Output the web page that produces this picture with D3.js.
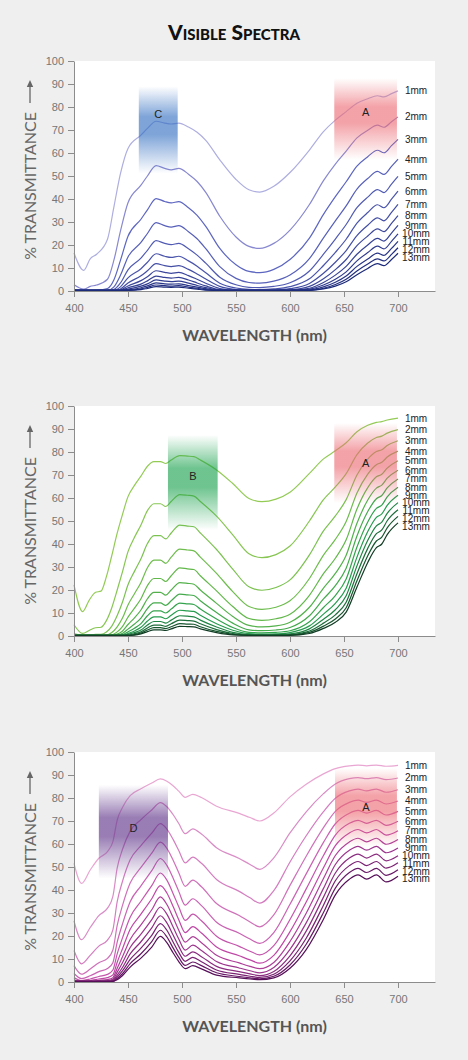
<!DOCTYPE html>
<html>
<head>
<meta charset="utf-8">
<script src="https://cdn.jsdelivr.net/npm/d3@7"></script>
<style>
  body { margin: 0; background: #efefef; }
  svg { display: block; }
</style>
</head>
<body>
<svg id="chart"></svg>
<script>
var thickness = ["1mm","2mm","3mm","4mm","5mm","6mm","7mm","8mm","9mm","10mm","11mm","12mm","13mm"];
var xTicks = [400, 450, 500, 550, 600, 650, 700];
var yTicks = [0, 10, 20, 30, 40, 50, 60, 70, 80, 90, 100];

// top chart (blue)
var blueWl = [400,409,415,421,431,437,443,450,462,468,476,484,490,497,506,514,522,535,550,562,572,585,600,618,631,642,652,662,672,681,687,694,700];
var blueT = [
  [16.5,9,14,16,22.5,36.7,51,62,67.8,70.7,73.8,73,72.6,73,71.3,69,65.5,57,48.5,44,43,45.5,51.5,61.3,69.3,74.3,78,81.6,83.6,84.9,84.4,85.8,87],
  [2.7,0.8,2.0,2.6,5.1,13.5,26.0,38.4,46.0,50.0,54.5,53.3,52.7,53.3,50.8,47.6,42.9,32.5,23.5,19.4,18.5,20.7,26.5,37.6,48.0,55.2,60.8,66.6,69.9,72.1,71.2,73.6,75.7],
  [0.5,0.3,0.3,0.4,1.1,4.9,13.3,23.8,31.2,35.3,40.2,38.9,38.3,38.9,36.2,32.9,28.1,18.5,11.4,8.5,8.0,9.4,13.7,23.0,33.3,41.0,47.5,54.3,58.4,61.2,60.1,63.2,65.9],
  [0.3,0.3,0.3,0.3,0.3,1.8,6.8,14.8,21.1,25.0,29.7,28.4,27.8,28.4,25.8,22.7,18.4,10.6,5.5,3.7,3.4,4.3,7.0,14.1,23.1,30.5,37.0,44.3,48.9,52.0,50.7,54.2,57.3],
  [0.3,0.3,0.3,0.3,0.3,0.7,3.5,9.2,14.3,17.7,21.9,20.7,20.2,20.7,18.4,15.6,12.1,6.0,2.7,1.6,1.5,2.0,3.6,8.7,16.0,22.6,28.9,36.2,40.8,44.1,42.8,46.5,49.8],
  [0.3,0.3,0.3,0.3,0.3,0.3,1.8,5.7,9.7,12.5,16.2,15.1,14.6,15.1,13.1,10.8,7.9,3.4,1.3,0.7,0.6,0.9,1.9,5.3,11.1,16.8,22.5,29.5,34.1,37.5,36.2,39.9,43.4],
  [0.3,0.3,0.3,0.3,0.3,0.3,0.9,3.5,6.6,8.8,11.9,11.0,10.6,11.0,9.4,7.4,5.2,2.0,0.6,0.3,0.3,0.4,1.0,3.3,7.7,12.5,17.6,24.1,28.6,31.8,30.5,34.2,37.7],
  [0.3,0.3,0.3,0.3,0.3,0.3,0.5,2.2,4.5,6.2,8.8,8.1,7.7,8.1,6.7,5.1,3.4,1.1,0.3,0.3,0.3,0.3,0.5,2.0,5.3,9.3,13.7,19.7,23.9,27.0,25.8,29.4,32.8],
  [0.3,0.3,0.3,0.3,0.3,0.3,0.3,1.4,3.0,4.4,6.5,5.9,5.6,5.9,4.8,3.5,2.2,0.6,0.3,0.3,0.3,0.3,0.3,1.2,3.7,6.9,10.7,16.0,20.0,22.9,21.7,25.2,28.5],
  [0.3,0.3,0.3,0.3,0.3,0.3,0.3,0.8,2.1,3.1,4.8,4.3,4.1,4.3,3.4,2.4,1.5,0.4,0.3,0.3,0.3,0.3,0.3,0.8,2.6,5.1,8.3,13.1,16.7,19.5,18.3,21.6,24.8],
  [0.3,0.3,0.3,0.3,0.3,0.3,0.3,0.5,1.4,2.2,3.5,3.1,3.0,3.1,2.4,1.7,1.0,0.3,0.3,0.3,0.3,0.3,0.3,0.5,1.8,3.8,6.5,10.7,13.9,16.5,15.5,18.5,21.6],
  [0.3,0.3,0.3,0.3,0.3,0.3,0.3,0.3,0.9,1.6,2.6,2.3,2.1,2.3,1.7,1.2,0.6,0.3,0.3,0.3,0.3,0.3,0.3,0.3,1.2,2.8,5.1,8.7,11.7,14.0,13.1,15.9,18.8],
  [0.3,0.3,0.3,0.3,0.3,0.3,0.3,0.3,0.6,1.1,1.9,1.7,1.6,1.7,1.2,0.8,0.4,0.3,0.3,0.3,0.3,0.3,0.3,0.3,0.9,2.1,4.0,7.1,9.8,11.9,11.0,13.7,16.4]
];
var blueBands = [
  {name: "C", from: 460, to: 496, lo: 51, hi: 89, mark: 77, color: "#2f6cc0"},
  {name: "A", from: 641, to: 699, lo: 57, hi: 92.5, mark: 77.7, color: "#ec6a73"}
];

// middle chart (green)
var greenWl = [400,408,414,420,425,430,435,440,445,450,456,462,468,474,480,485,490,498,505,511,517,532,547,562,574,587,600,618,631,642,652,662,672,680,685,690,700];
var greenT = [
  [22.2,10.6,15.5,19,19.5,25.8,35,44.7,53,60.6,65.5,69.5,73.8,75.8,75.8,75,76.5,78.4,78.2,78,76.5,72.2,66.3,59.8,58.4,59.5,62.5,70.7,77,80.5,84,88.8,91.6,92.9,93.2,93.9,94.7],
  [4.9,1.1,2.4,3.6,3.8,6.7,12.3,20.0,28.1,36.7,42.9,48.3,54.5,57.5,57.5,56.3,58.5,61.5,61.2,60.8,58.5,52.1,44.0,35.8,34.1,35.4,39.1,50.0,59.3,64.8,70.6,78.9,83.9,86.3,86.9,88.2,89.7],
  [1.1,0.3,0.4,0.7,0.7,1.7,4.3,8.9,14.9,22.3,28.1,33.6,40.2,43.6,43.6,42.2,44.8,48.2,47.8,47.5,44.8,37.6,29.1,21.4,19.9,21.1,24.4,35.3,45.7,52.2,59.3,70.0,76.9,80.2,81.0,82.8,84.9],
  [0.3,0.3,0.3,0.3,0.3,0.4,1.5,4.0,7.9,13.5,18.4,23.3,29.7,33.0,33.0,31.6,34.3,37.8,37.4,37.0,34.3,27.2,19.3,12.8,11.6,12.5,15.3,25.0,35.2,42.0,49.8,62.2,70.4,74.5,75.5,77.8,80.4],
  [0.3,0.3,0.3,0.3,0.3,0.3,0.5,1.8,4.2,8.2,12.1,16.2,21.9,25.0,25.0,23.7,26.2,29.6,29.2,28.9,26.2,19.6,12.8,7.6,6.8,7.5,9.5,17.7,27.1,33.8,41.8,55.2,64.5,69.2,70.3,73.0,76.2],
  [0.3,0.3,0.3,0.3,0.3,0.3,0.3,0.8,2.2,5.0,7.9,11.3,16.2,19.0,19.0,17.8,20.0,23.2,22.9,22.5,20.0,14.2,8.5,4.6,4.0,4.4,6.0,12.5,20.8,27.2,35.1,49.0,59.1,64.3,65.6,68.6,72.1],
  [0.3,0.3,0.3,0.3,0.3,0.3,0.3,0.4,1.2,3.0,5.2,7.8,11.9,14.4,14.4,13.3,15.3,18.2,17.9,17.6,15.3,10.2,5.6,2.7,2.3,2.6,3.7,8.8,16.1,21.9,29.5,43.5,54.1,59.7,61.1,64.4,68.3],
  [0.3,0.3,0.3,0.3,0.3,0.3,0.3,0.3,0.6,1.8,3.4,5.4,8.8,10.9,10.9,10.0,11.7,14.3,14.0,13.7,11.7,7.4,3.7,1.6,1.4,1.6,2.3,6.2,12.4,17.6,24.8,38.7,49.6,55.5,56.9,60.5,64.7],
  [0.3,0.3,0.3,0.3,0.3,0.3,0.3,0.3,0.3,1.1,2.2,3.8,6.5,8.3,8.3,7.5,9.0,11.2,10.9,10.7,9.0,5.3,2.5,1.0,0.8,0.9,1.5,4.4,9.5,14.2,20.8,34.3,45.4,51.6,53.1,56.8,61.2],
  [0.3,0.3,0.3,0.3,0.3,0.3,0.3,0.3,0.3,0.7,1.5,2.6,4.8,6.3,6.3,5.6,6.9,8.8,8.6,8.3,6.9,3.9,1.6,0.6,0.5,0.6,0.9,3.1,7.3,11.4,17.5,30.5,41.6,47.9,49.5,53.3,58.0],
  [0.3,0.3,0.3,0.3,0.3,0.3,0.3,0.3,0.3,0.4,1.0,1.8,3.5,4.7,4.7,4.2,5.3,6.9,6.7,6.5,5.3,2.8,1.1,0.4,0.3,0.3,0.6,2.2,5.6,9.2,14.7,27.1,38.1,44.5,46.1,50.1,54.9],
  [0.3,0.3,0.3,0.3,0.3,0.3,0.3,0.3,0.3,0.3,0.6,1.3,2.6,3.6,3.6,3.2,4.0,5.4,5.2,5.1,4.0,2.0,0.7,0.3,0.3,0.3,0.4,1.6,4.3,7.4,12.3,24.0,34.9,41.3,43.0,47.0,52.0],
  [0.3,0.3,0.3,0.3,0.3,0.3,0.3,0.3,0.3,0.3,0.4,0.9,1.9,2.7,2.7,2.4,3.1,4.2,4.1,4.0,3.1,1.5,0.5,0.3,0.3,0.3,0.3,1.1,3.3,6.0,10.4,21.3,32.0,38.4,40.0,44.1,49.2]
];
var greenBands = [
  {name: "B", from: 487, to: 533, lo: 46, hi: 87.4, mark: 69.6, color: "#16a04a"},
  {name: "A", from: 641, to: 699, lo: 57.8, hi: 92.6, mark: 75, color: "#ec6a73"}
];

// bottom chart (purple)
var purpleWl = [400,407,415,423,431,436,440,445,452,462,472,480,486,492,497,503,510,518,532,553,563,572,585,600,615,631,642,655,663,671,680,689,700];
var purpleT = [
  [51.6,42.9,48.7,53.8,56.7,61,70.4,76,81,84,86.5,88.3,87.3,85.2,83,80.3,81.6,80.2,76.4,73.3,71.5,70,73.5,80.5,86,90.5,92.8,94,94.3,94,94.3,93.8,94.2],
  [26.6,18.4,23.7,28.9,32.1,37.2,49.6,57.8,65.6,70.6,74.8,78.0,76.2,72.6,68.9,64.5,66.6,64.3,58.4,53.7,51.1,49.0,54.0,64.8,74.0,81.9,86.1,88.4,88.9,88.4,88.9,88.0,88.7],
  [13.7,7.9,11.6,15.6,18.2,22.7,34.9,43.9,53.1,59.3,64.7,68.9,66.5,61.8,57.2,51.8,54.3,51.6,44.6,39.4,36.6,34.3,39.7,52.2,63.6,74.1,79.9,83.1,83.9,83.1,83.9,82.5,83.6],
  [7.1,3.4,5.6,8.4,10.3,13.9,24.6,33.4,43.0,49.8,56.0,60.8,58.1,52.7,47.5,41.6,44.3,41.4,34.1,28.9,26.1,24.0,29.2,42.0,54.7,67.1,74.2,78.1,79.1,78.1,79.1,77.4,78.7],
  [3.7,1.5,2.7,4.5,5.9,8.4,17.3,25.4,34.9,41.8,48.4,53.7,50.7,44.9,39.4,33.4,36.2,33.2,26.0,21.2,18.7,16.8,21.5,33.8,47.0,60.7,68.8,73.4,74.6,73.4,74.6,72.6,74.2],
  [1.9,0.6,1.3,2.4,3.3,5.2,12.2,19.3,28.2,35.1,41.9,47.4,44.3,38.2,32.7,26.8,29.5,26.6,19.9,15.5,13.4,11.8,15.8,27.2,40.5,55.0,63.9,69.0,70.3,69.0,70.3,68.1,69.9],
  [1.0,0.3,0.6,1.3,1.9,3.1,8.6,14.6,22.9,29.5,36.2,41.9,38.7,32.6,27.1,21.5,24.1,21.3,15.2,11.4,9.6,8.2,11.6,21.9,34.8,49.7,59.3,64.8,66.3,64.8,66.3,63.9,65.8],
  [0.5,0.3,0.3,0.7,1.1,1.9,6.0,11.1,18.5,24.8,31.4,37.0,33.7,27.8,22.5,17.3,19.7,17.1,11.6,8.3,6.8,5.8,8.5,17.6,29.9,45.0,55.0,60.9,62.5,60.9,62.5,59.9,62.0],
  [0.3,0.3,0.3,0.4,0.6,1.2,4.3,8.5,15.0,20.8,27.1,32.6,29.5,23.7,18.7,13.9,16.0,13.7,8.9,6.1,4.9,4.0,6.3,14.2,25.7,40.7,51.1,57.3,59.0,57.3,59.0,56.2,58.3],
  [0.3,0.3,0.3,0.3,0.3,0.7,3.0,6.4,12.2,17.5,23.5,28.8,25.7,20.2,15.5,11.2,13.1,11.0,6.8,4.5,3.5,2.8,4.6,11.4,22.1,36.9,47.4,53.9,55.6,53.9,55.6,52.7,54.9],
  [0.3,0.3,0.3,0.3,0.3,0.4,2.1,4.9,9.8,14.7,20.3,25.4,22.5,17.2,12.9,9.0,10.7,8.8,5.2,3.3,2.5,2.0,3.4,9.2,19.0,33.4,44.0,50.6,52.4,50.6,52.4,49.5,51.8],
  [0.3,0.3,0.3,0.3,0.3,0.3,1.5,3.7,8.0,12.3,17.6,22.5,19.6,14.6,10.7,7.2,8.7,7.1,4.0,2.4,1.8,1.4,2.5,7.4,16.4,30.2,40.8,47.6,49.4,47.6,49.4,46.4,48.8],
  [0.3,0.3,0.3,0.3,0.3,0.3,1.0,2.8,6.5,10.4,15.2,19.8,17.1,12.5,8.9,5.8,7.1,5.7,3.0,1.8,1.3,1.0,1.8,6.0,14.1,27.3,37.9,44.7,46.6,44.7,46.6,43.5,46.0]
];
var purpleBands = [
  {name: "D", from: 423, to: 487, lo: 45, hi: 85.7, mark: 67, color: "#5a2d86"},
  {name: "A", from: 641.7, to: 699, lo: 58.8, hi: 92.9, mark: 76, color: "#ec6a73"}
];

var W = 468, H = 1060;
var left = 74, right = 435, plotH = 230;

var svg = d3.select("#chart").attr("width", W).attr("height", H);
var defs = svg.append("defs");

svg.append("text")
   .attr("x", 234)
   .attr("y", 40)
   .attr("text-anchor", "middle")
   .style("font-family", "Lato, 'Open Sans', sans-serif")
   .style("font-weight", "900")
   .style("font-size", "21px")
   .style("font-variant", "small-caps")
   .style("fill", "#111")
   .text("Visible Spectra");

var blueColor = d3.scaleLinear().domain([0, 1, 2, 12])
                  .range(["#aeaee0", "#8888d0", "#5d66c0", "#1c2a7a"]);
var greenColor = d3.scaleLinear().domain([0, 4, 8, 12])
                   .range(["#93cb55", "#62b84a", "#259c4e", "#123d25"]);
var purpleColor = d3.scaleLinear().domain([0, 1, 6, 12])
                    .range(["#e9a6d2", "#d98cc6", "#bf48a6", "#570f5a"]);

var drawChart = function(top, wl, rows, bands, color, id)
{
  var x = d3.scaleLinear().domain([400, 400 + (right - left) / 1.08]).range([left, right]);
  var y = d3.scaleLinear().domain([0, 100]).range([top + plotH, top]);
  var g = svg.append("g");

  g.append("rect")
   .attr("x", left)
   .attr("y", top)
   .attr("width", right - left)
   .attr("height", plotH)
   .attr("fill", "#fff");

  var line = d3.line()
               .x(function(d, i) { return x(wl[i]); })
               .y(function(d) { return y(d); })
               .curve(d3.curveMonotoneX);

  g.selectAll("path.spec")
   .data(rows)
   .enter()
   .append("path")
   .attr("class", "spec")
   .attr("d", line)
   .attr("fill", "none")
   .attr("stroke", function(d, i) { return color(i); })
   .attr("stroke-width", 1.2);

  /* absorption bands, laid over the curves */
  bands.forEach(function(b, k)
  {
    var gid = id + "band" + k;
    var grad = defs.append("linearGradient")
                   .attr("id", gid)
                   .attr("x1", 0).attr("y1", 0)
                   .attr("x2", 0).attr("y2", 1);
    [[0, 0], [0.35, 0.62], [0.55, 0.62], [1, 0]].forEach(function(s)
    {
      grad.append("stop")
          .attr("offset", s[0])
          .attr("stop-color", b.color)
          .attr("stop-opacity", s[1]);
    });
    g.append("rect")
     .attr("x", x(b.from))
     .attr("y", y(b.hi))
     .attr("width", x(b.to) - x(b.from))
     .attr("height", y(b.lo) - y(b.hi))
     .attr("fill", "url(#" + gid + ")");
    g.append("text")
     .attr("x", x((b.from + b.to) / 2))
     .attr("y", y(b.mark))
     .attr("dy", "0.35em")
     .attr("text-anchor", "middle")
     .style("font-family", "'Liberation Sans', Arial, sans-serif")
     .style("font-size", "11px")
     .style("fill", "#222")
     .text(b.name);
  });

  var xAxis = g.append("g")
               .attr("transform", "translate(0," + (top + plotH) + ")")
               .call(d3.axisBottom(x).tickValues(xTicks).tickSize(6).tickSizeOuter(0).tickPadding(7));
  var yAxis = g.append("g")
               .attr("transform", "translate(" + left + ",0)")
               .call(d3.axisLeft(y).tickValues(yTicks).tickSize(6).tickSizeOuter(0).tickPadding(4));
  [xAxis, yAxis].forEach(function(a)
  {
    a.select(".domain").attr("stroke", "#8c8c8c");
    a.selectAll(".tick line").attr("stroke", "#8c8c8c");
    a.selectAll(".tick text")
     .attr("fill", "#767676")
     .style("font-family", "'Liberation Sans', Arial, sans-serif")
     .style("font-size", "11px");
  });

  /* thickness labels at the line ends, pushed apart a little */
  var ly = rows.map(function(r) { return y(r[r.length - 1]); });
  for (var i = 1; i < ly.length; i++)
  {
    if (ly[i] - ly[i - 1] < 7.7) ly[i] = ly[i - 1] + 7.7;
  }
  g.selectAll("text.thick")
   .data(thickness)
   .enter()
   .append("text")
   .attr("class", "thick")
   .attr("x", 416)
   .attr("y", function(d, i) { return ly[i]; })
   .attr("dy", "0.35em")
   .attr("text-anchor", "middle")
   .style("font-family", "'Liberation Sans', Arial, sans-serif")
   .style("font-size", "10px")
   .style("fill", "#222")
   .text(function(d) { return d; });

  /* axis titles */
  var yl = g.append("g").attr("transform", "translate(30," + (top + 125) + ") rotate(-90)");
  yl.append("text")
    .attr("x", 0)
    .attr("y", 0)
    .attr("dy", "0.35em")
    .attr("text-anchor", "middle")
    .style("font-family", "Lato, 'Open Sans', sans-serif")
    .style("font-size", "16px")
    .style("fill", "#666")
    .text("% TRANSMITTANCE");
  yl.append("line")
    .attr("x1", 83).attr("y1", 0)
    .attr("x2", 103).attr("y2", 0)
    .attr("stroke", "#666")
    .attr("stroke-width", 1.3);
  yl.append("path")
    .attr("d", "M106,0 L99,-3.2 L99,3.2 Z")
    .attr("fill", "#666");

  g.append("text")
   .attr("x", (left + right) / 2)
   .attr("y", top + plotH + 50)
   .attr("text-anchor", "middle")
   .style("font-family", "Lato, 'Open Sans', sans-serif")
   .style("font-weight", "700")
   .style("font-size", "16px")
   .style("fill", "#555")
   .text("WAVELENGTH (nm)");
};

drawChart(61, blueWl, blueT, blueBands, blueColor, "blue");
drawChart(406, greenWl, greenT, greenBands, greenColor, "green");
drawChart(752, purpleWl, purpleT, purpleBands, purpleColor, "purple");
</script>
</body>
</html>
